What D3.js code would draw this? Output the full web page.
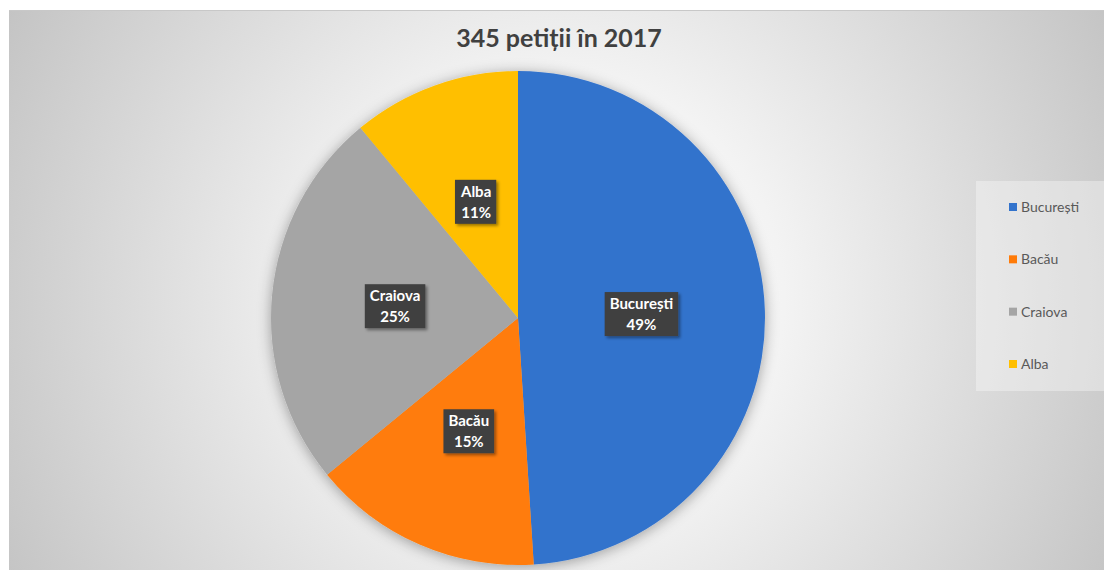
<!DOCTYPE html>
<html><head><meta charset="utf-8">
<script src="https://cdn.jsdelivr.net/npm/d3@7"></script>
<style>html,body{margin:0;padding:0;background:#fff;}svg{display:block;}</style>
</head><body>
<svg id="c" width="1104" height="570"></svg>
<script>
const categories = ["București", "Bacău", "Craiova", "Alba"];
const values = [169, 52, 86, 38];
const colors = ["#3373CC", "#FF7B09", "#A5A5A5", "#FFBF00"];
const title = "345 petiții în 2017";

const svg = d3.select("#c");
const W = 1104, H = 570;
const defs = svg.append("defs");
const g = defs.append("radialGradient").attr("id","bg").attr("gradientUnits","userSpaceOnUse")
  .attr("cx",560).attr("cy",300).attr("r",640);
g.append("stop").attr("offset","0%").attr("stop-color","#ffffff");
g.append("stop").attr("offset","35%").attr("stop-color","#f3f3f3");
g.append("stop").attr("offset","100%").attr("stop-color","#c2c2c2");
const sh = defs.append("filter").attr("id","sh").attr("x","-20%").attr("y","-20%").attr("width","140%").attr("height","140%");
sh.append("feDropShadow").attr("dx",0).attr("dy",2).attr("stdDeviation",7).attr("flood-color","#000").attr("flood-opacity",0.35);
const bs = defs.append("filter").attr("id","bs").attr("x","-30%").attr("y","-30%").attr("width","160%").attr("height","160%");
bs.append("feDropShadow").attr("dx",2).attr("dy",2).attr("stdDeviation",1.5).attr("flood-color","#000").attr("flood-opacity",0.4);

svg.append("rect").attr("x",9).attr("y",10).attr("width",W-9).attr("height",H-10).attr("fill","url(#bg)");
svg.append("line").attr("x1",9).attr("x2",W).attr("y1",10.5).attr("y2",10.5).attr("stroke","#c8c8c8").attr("stroke-width",1);

const font = "Lato, 'Open Sans', 'Noto Sans', sans-serif";
svg.append("text").attr("x",559).attr("y",47).attr("text-anchor","middle")
  .attr("font-family",font).attr("font-weight","bold").attr("font-size",25).attr("fill","#404040").text(title);

const cx = 518, cy = 318, R = 247;
const pie = d3.pie().sort(null).value(d => d)(values);
const arc = d3.arc().innerRadius(0).outerRadius(R);
const total = d3.sum(values);
const color = d3.scaleOrdinal().domain(categories).range(colors);

const pg = svg.append("g").attr("transform",`translate(${cx},${cy})`);
pg.append("g").attr("filter","url(#sh)").selectAll("path").data(pie).join("path")
  .attr("d",arc).attr("fill",(d,i)=>color(categories[i]));

const lg = pg.selectAll("g.lab").data(pie).join("g").attr("class","lab")
  .attr("transform",d=>`translate(${arc.centroid(d)})`);
lg.each(function(d,i){
  const s = d3.select(this);
  const t1 = categories[i], t2 = Math.round(d.value/total*100)+"%";
  const txt = s.append("text").attr("text-anchor","middle").attr("font-family",font)
    .attr("font-weight","bold").attr("font-size",15).attr("fill","#fff");
  txt.append("tspan").attr("x",0).attr("y",-5).text(t1);
  txt.append("tspan").attr("x",0).attr("y",16).text(t2);
  const bb = txt.node().getBBox();
  s.insert("rect","text").attr("x",bb.x-5).attr("y",-22).attr("width",bb.width+10).attr("height",44)
    .attr("fill","#404040").attr("filter","url(#bs)");
});

// legend
const lx = 976, ly = 181;
svg.append("rect").attr("x",lx).attr("y",ly).attr("width",W-lx).attr("height",210).attr("fill","#ffffff").attr("opacity",0.35);
const ys = d3.scalePoint().domain(categories).range([207,364]);
const li = svg.selectAll("g.leg").data(categories).join("g").attr("class","leg")
  .attr("transform",d=>`translate(1009,${ys(d)})`);
li.append("rect").attr("x",0).attr("y",-4).attr("width",8).attr("height",8).attr("fill",d=>color(d));
li.append("text").attr("x",12).attr("y",5).attr("font-family",font).attr("font-size",14).attr("fill","#595959").text(d=>d);
</script>
</body></html>
